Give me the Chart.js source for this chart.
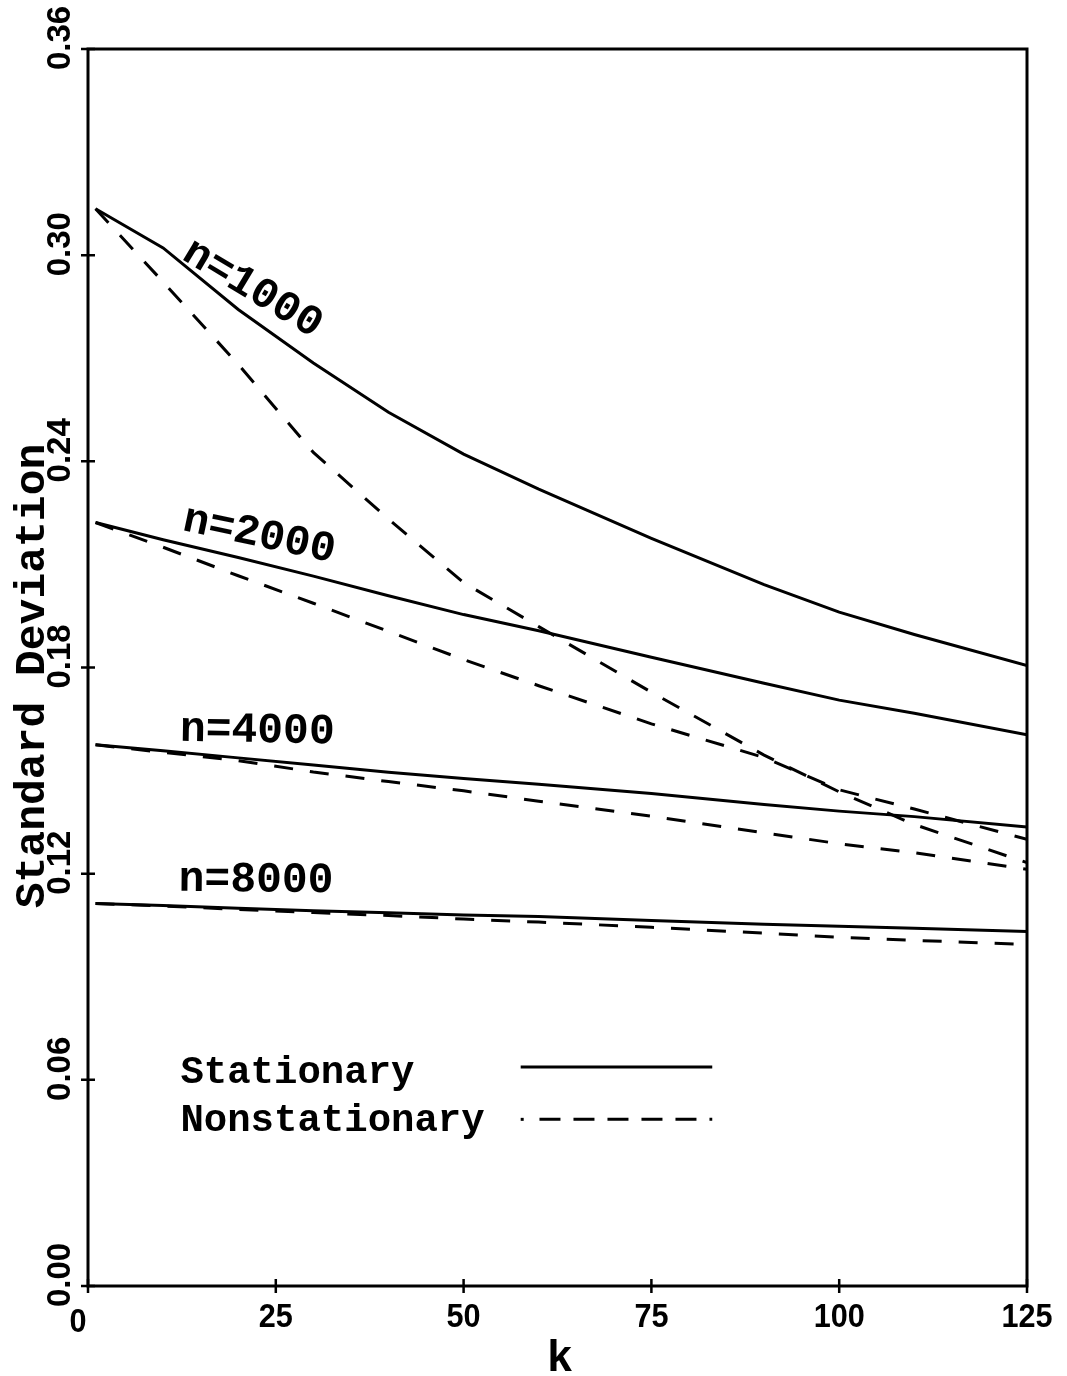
<!DOCTYPE html>
<html>
<head>
<meta charset="utf-8">
<script src="https://cdn.jsdelivr.net/npm/chart.js@4.4.1/dist/chart.umd.min.js"></script>
<style>
  html, body { margin: 0; padding: 0; background: #fff; }
  #wrap { width: 1067px; height: 1376px; }
</style>
</head>
<body>
<div id="wrap"><canvas id="chart" width="1067" height="1376"></canvas></div>
<script>
// k values at which the curves were read
const kValues = [1, 10, 20, 30, 40, 50, 60, 75, 90, 100, 110, 125];

const stationary1000    = [0.3135, 0.3021, 0.2842, 0.2686, 0.2543, 0.2421, 0.2319, 0.2176, 0.2041, 0.1961, 0.1896, 0.1806];
const nonstationary1000 = [0.3135, 0.2922, 0.2682, 0.2426, 0.2232, 0.2047, 0.1919, 0.1728, 0.1545, 0.1438, 0.1343, 0.1232];
const stationary2000    = [0.2222, 0.2172, 0.2120, 0.2066, 0.2009, 0.1954, 0.1907, 0.1830, 0.1754, 0.1705, 0.1667, 0.1604];
const nonstationary2000 = [0.2222, 0.2150, 0.2067, 0.1987, 0.1905, 0.1823, 0.1747, 0.1636, 0.1538, 0.1444, 0.1388, 0.1300];
const stationary4000    = [0.1575, 0.1558, 0.1537, 0.1516, 0.1495, 0.1477, 0.1460, 0.1433, 0.1401, 0.1382, 0.1366, 0.1336];
const nonstationary4000 = [0.1575, 0.1553, 0.1529, 0.1496, 0.1468, 0.1441, 0.1411, 0.1367, 0.1319, 0.1287, 0.1261, 0.1213];
const stationary8000    = [0.1113, 0.1107, 0.1099, 0.1092, 0.1086, 0.1080, 0.1075, 0.1064, 0.1053, 0.1047, 0.1041, 0.1032];
const nonstationary8000 = [0.1113, 0.1106, 0.1096, 0.1087, 0.1078, 0.1068, 0.1059, 0.1044, 0.1027, 0.1015, 0.1006, 0.0994];

const xTicks = [0, 25, 50, 75, 100, 125];
const xTickLabels = ['0', '25', '50', '75', '100', '125'];
const yTicks = [0, 0.06, 0.12, 0.18, 0.24, 0.30, 0.36];
const yTickLabels = ['0.00', '0.06', '0.12', '0.18', '0.24', '0.30', '0.36'];

const curveLabels = ['n=1000', 'n=2000', 'n=4000', 'n=8000'];
const legendLabels = ['Stationary', 'Nonstationary'];

const MONO = '"Liberation Mono", "Courier New", monospace';
const SANS = '"Liberation Sans", Arial, sans-serif';

function pts(values) {
    return kValues.map((k, i) => ({ x: k, y: values[i] }));
}

function line(label, values, dashed) {
    return {
        label: label,
        data: pts(values),
        borderColor: '#000',
        borderWidth: 3,
        borderDash: dashed ? [19, 17] : [],
        pointRadius: 0,
        tension: 0,
        fill: false
    };
}

const datasets = [
    line('Stationary n=1000', stationary1000, false),
    line('Nonstationary n=1000', nonstationary1000, true),
    line('Stationary n=2000', stationary2000, false),
    line('Nonstationary n=2000', nonstationary2000, true),
    line('Stationary n=4000', stationary4000, false),
    line('Nonstationary n=4000', nonstationary4000, true),
    line('Stationary n=8000', stationary8000, false),
    line('Nonstationary n=8000', nonstationary8000, true)
];

// frame, crossing ticks, rotated labels and the hand-made legend
const paperPlugin = {
    id: 'paper',
    afterDraw(chart) {
        const { ctx, chartArea: a, scales } = chart;
        const x = scales.x, y = scales.y;
        ctx.save();
        ctx.strokeStyle = '#000';
        ctx.fillStyle = '#000';
        ctx.setLineDash([]);

        ctx.lineWidth = 3;
        ctx.strokeRect(a.left, a.top, a.right - a.left, a.bottom - a.top);

        ctx.lineWidth = 2.5;
        ctx.beginPath();
        xTicks.forEach(t => {
            const px = x.getPixelForValue(t);
            ctx.moveTo(px, a.bottom - 7);
            ctx.lineTo(px, a.bottom + 7);
        });
        yTicks.forEach(t => {
            const py = y.getPixelForValue(t);
            ctx.moveTo(a.left - 7, py);
            ctx.lineTo(a.left + 7, py);
        });
        ctx.stroke();

        // x tick labels (narrow bold)
        ctx.font = 'bold 34px ' + SANS;
        ctx.textAlign = 'center';
        ctx.textBaseline = 'alphabetic';
        xTicks.forEach((t, i) => {
            const px = x.getPixelForValue(t) + (t === 0 ? -10 : 0);
            const py = a.bottom + (t === 0 ? 46 : 41);
            ctx.save();
            ctx.translate(px, py);
            ctx.scale(0.9, 1);
            ctx.fillText(xTickLabels[i], 0, 0);
            ctx.restore();
        });

        // y tick labels, rotated
        ctx.font = 'bold 33px ' + SANS;
        yTicks.forEach((t, i) => {
            ctx.save();
            ctx.translate(70, y.getPixelForValue(t) - 11);
            ctx.rotate(-Math.PI / 2);
            ctx.fillText(yTickLabels[i], 0, 0);
            ctx.restore();
        });

        // axis titles
        ctx.font = 'bold 43px ' + MONO;
        ctx.save();
        ctx.translate(44, 676);
        ctx.rotate(-Math.PI / 2);
        ctx.fillText('Standard Deviation', 0, 0);
        ctx.restore();
        ctx.font = 'bold 44px ' + MONO;
        ctx.fillText('k', 560, 1371);

        // curve labels
        ctx.textAlign = 'left';
        ctx.font = 'bold 43px ' + MONO;
        const place = [
            [12.3, 0.2990, 31],
            [12.4, 0.2200, 12],
            [12.2, 0.1587, 1],
            [12.05, 0.1150, 0.5]
        ];
        curveLabels.forEach((txt, i) => {
            const p = place[i];
            ctx.save();
            ctx.translate(x.getPixelForValue(p[0]), y.getPixelForValue(p[1]));
            ctx.rotate(p[2] * Math.PI / 180);
            ctx.fillText(txt, 0, 0);
            ctx.restore();
        });

        // legend
        ctx.font = 'bold 39px ' + MONO;
        ctx.fillText(legendLabels[0], x.getPixelForValue(12.3), y.getPixelForValue(0.059));
        ctx.fillText(legendLabels[1], x.getPixelForValue(12.3), y.getPixelForValue(0.0452));

        ctx.lineWidth = 3;
        ctx.beginPath();
        ctx.moveTo(x.getPixelForValue(57.6), y.getPixelForValue(0.0637));
        ctx.lineTo(x.getPixelForValue(83.1), y.getPixelForValue(0.0637));
        ctx.stroke();

        const dy = y.getPixelForValue(0.0485);
        ctx.fillRect(x.getPixelForValue(57.8) - 1.5, dy - 1.5, 3, 3);
        ctx.setLineDash([21, 13]);
        ctx.beginPath();
        ctx.moveTo(x.getPixelForValue(60.1), dy);
        ctx.lineTo(x.getPixelForValue(83.1), dy);
        ctx.stroke();
        ctx.restore();
    }
};

new Chart(document.getElementById('chart'), {
    type: 'line',
    data: { datasets },
    options: {
        responsive: false,
        animation: false,
        layout: { padding: { left: 88, right: 40, top: 49, bottom: 90 } },
        plugins: { legend: { display: false }, tooltip: { enabled: false } },
        scales: {
            x: {
                type: 'linear', min: 0, max: 125,
                ticks: { display: false },
                grid: { display: false, drawTicks: false },
                border: { display: false }
            },
            y: {
                min: 0, max: 0.36,
                ticks: { display: false },
                grid: { display: false, drawTicks: false },
                border: { display: false }
            }
        }
    },
    plugins: [paperPlugin]
});
</script>
</body>
</html>
